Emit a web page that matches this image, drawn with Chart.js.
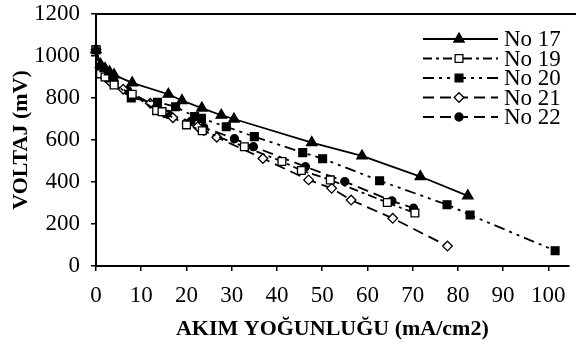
<!DOCTYPE html>
<html>
<head>
<meta charset="utf-8">
<script src="https://cdn.jsdelivr.net/npm/chart.js@4/dist/chart.umd.min.js"></script>
<style>
  html, body { margin: 0; padding: 0; background: #fff; }
  #wrap { width: 576px; height: 349px; }
</style>
</head>
<body>
<div id="wrap"><canvas id="grafiek" width="576" height="349"></canvas></div>
<script>
// Akim yogunlugu (mA/cm2) en voltaj (mV) per monster
const no17X = [0, 1, 2, 3, 4, 8, 16, 19, 23.4, 27.7, 30.5, 47.7, 58.8, 71.7, 82.2];
const no17Y = [1030, 960, 940, 925, 910, 872, 818, 788, 752, 718, 700, 588, 524, 426, 334];

const no19X = [0, 1, 2, 4, 8, 13.4, 14.6, 20, 23.5, 32.8, 41.1, 45.4, 51.8, 64.4, 70.5];
const no19Y = [1030, 915, 900, 862, 818, 740, 735, 672, 644, 568, 498, 455, 410, 302, 252];

const no20X = [0, 1, 2, 3, 7.8, 13.6, 17.6, 21.8, 23.3, 28.8, 35, 45.7, 50.1, 62.7, 77.6, 82.7, 101.5];
const no20Y = [1030, 935, 912, 895, 800, 780, 758, 712, 703, 663, 616, 540, 511, 406, 292, 243, 73];

const no21X = [0, 1, 2, 3, 6, 12, 15, 17, 22.5, 23.8, 26.7, 36.9, 47, 52.1, 56.4, 65.6, 77.7];
const no21Y = [1030, 925, 900, 880, 842, 775, 730, 706, 663, 645, 613, 512, 410, 370, 314, 227, 95];

const no22X = [0, 1, 2, 4, 7, 16, 21, 23.8, 30.6, 34.8, 46.3, 55, 65.4, 70.2];
const no22Y = [1030, 922, 905, 880, 835, 722, 688, 660, 606, 568, 473, 402, 310, 275];

const xTicks = [0, 10, 20, 30, 40, 50, 60, 70, 80, 90, 100];
const yTicks = [0, 200, 400, 600, 800, 1000, 1200];

const serif = "'Liberation Serif', 'Times New Roman', serif";

function punten(xs, ys) {
  return xs.map((x, i) => ({ x, y: ys[i] }));
}

function reeks(label, xs, ys, stijl) {
  return Object.assign({
    label,
    data: punten(xs, ys),
    borderColor: "#000",
    pointBorderColor: "#000",
    borderWidth: 1.8,
    pointBorderWidth: 1.3,
    showLine: true,
    tension: 0,
    fill: false,
    clip: false,
  }, stijl);
}

const datasets = [
  reeks("No 17", no17X, no17Y, { pointStyle: "triangle", pointRadius: 6, pointBackgroundColor: "#000", borderDash: [] }),
  reeks("No 19", no19X, no19Y, { pointStyle: "rect", pointRadius: 5.5, pointBackgroundColor: "#fff", borderDash: [9, 4, 3, 4] }),
  reeks("No 20", no20X, no20Y, { pointStyle: "rect", pointRadius: 5.5, pointBackgroundColor: "#000", borderDash: [11, 5, 3, 5, 3, 5] }),
  reeks("No 21", no21X, no21Y, { pointStyle: "rectRot", pointRadius: 4.8, pointBackgroundColor: "#fff", borderDash: [11, 6] }),
  reeks("No 22", no22X, no22Y, { pointStyle: "circle", pointRadius: 4, pointBackgroundColor: "#000", borderDash: [11, 6] }),
];

// Legenda met lijnstuk en marker, plus bovenrand van het plotgebied
const legendaPlugin = {
  id: "legendaLijnen",
  afterDraw(chart) {
    const ctx = chart.ctx;
    const area = chart.chartArea;
    ctx.save();
    ctx.strokeStyle = "#000";
    ctx.lineWidth = 2;
    ctx.beginPath();
    ctx.moveTo(area.left, area.top);
    ctx.lineTo(576, area.top);
    ctx.stroke();

    const x0 = 423, x1 = 498, xm = 459, tx = 504;
    chart.data.datasets.forEach((ds, i) => {
      const y = 39 + i * 19.5;
      ctx.setLineDash(ds.borderDash || []);
      ctx.lineWidth = 2;
      ctx.strokeStyle = "#000";
      ctx.beginPath();
      ctx.moveTo(x0, y);
      ctx.lineTo(x1, y);
      ctx.stroke();
      ctx.setLineDash([]);
      ctx.fillStyle = ds.pointBackgroundColor;
      ctx.lineWidth = ds.pointBorderWidth;
      Chart.helpers.drawPoint(ctx, {
        pointStyle: ds.pointStyle,
        radius: ds.pointRadius,
        rotation: 0,
        borderWidth: ds.pointBorderWidth,
      }, xm, y);
      ctx.fillStyle = "#000";
      ctx.font = "23px " + serif;
      ctx.textAlign = "left";
      ctx.textBaseline = "middle";
      ctx.fillText(ds.label, tx, y + 1);
    });
    ctx.restore();
  },
};

new Chart(document.getElementById("grafiek"), {
  type: "scatter",
  data: { datasets },
  plugins: [legendaPlugin],
  options: {
    responsive: false,
    animation: false,
    layout: { padding: { left: 0, top: 14, right: 0, bottom: 0 } },
    plugins: {
      legend: { display: false },
      tooltip: { enabled: false },
    },
    scales: {
      x: {
        type: "linear",
        min: 0,
        max: 104.5,
        afterBuildTicks: (s) => { s.ticks = xTicks.map((v) => ({ value: v })); },
        afterFit: (s) => { s.height = 83; s.paddingLeft = 0; s.paddingRight = 0; },
        ticks: {
          color: "#000",
          font: { family: serif, size: 23 },
          padding: 11,
          maxRotation: 0,
          callback: (v) => String(v),
        },
        grid: { drawOnChartArea: false, drawTicks: true, tickLength: 5, color: "#000", lineWidth: 1.5 },
        border: { color: "#000", width: 2 },
        title: {
          display: true,
          text: "AKIM YOĞUNLUĞU (mA/cm2)",
          color: "#000",
          font: { family: serif, size: 22, weight: "bold" },
          padding: { top: 0, bottom: 6 },
        },
      },
      y: {
        min: 0,
        max: 1200,
        afterBuildTicks: (s) => { s.ticks = yTicks.map((v) => ({ value: v })); },
        afterFit: (s) => { s.width = 96; s.paddingTop = 0; s.paddingBottom = 0; },
        ticks: {
          color: "#000",
          font: { family: serif, size: 23 },
          padding: 11,
          callback: (v) => String(v),
        },
        grid: { drawOnChartArea: false, drawTicks: true, tickLength: 5, color: "#000", lineWidth: 1.5 },
        border: { color: "#000", width: 2 },
        title: {
          display: true,
          text: "VOLTAJ (mV)",
          color: "#000",
          font: { family: serif, size: 22, weight: "bold" },
          padding: { top: 8, bottom: 0 },
        },
      },
    },
  },
});
</script>
</body>
</html>
